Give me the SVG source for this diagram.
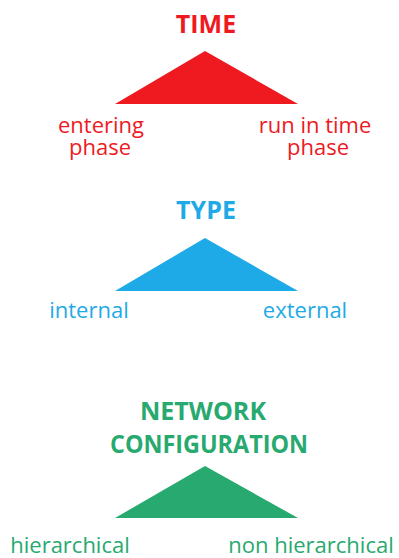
<svg xmlns="http://www.w3.org/2000/svg" width="399" height="558" viewBox="0 0 399 558">
  <style>
    .head { font-family: "Open Sans", "Liberation Sans", sans-serif; font-weight: bold; font-size: 25px; text-anchor: middle; }
    .lbl { font-family: "Open Sans", "Liberation Sans", sans-serif; font-size: 22px; text-anchor: middle; }
    .red { fill: #ee1a1f; }
    .blue { fill: #1eaae6; }
    .green { fill: #28a96f; }
  </style>
  <rect width="399" height="558" fill="#ffffff"/>

  <!-- Time -->
  <g id="time">
    <text class="head red" x="206" y="33">TIME</text>
    <polygon class="red" points="205,51 115,104 298,104"/>
    <text class="lbl red"><tspan x="101" y="133">entering</tspan><tspan x="100" y="155">phase</tspan></text>
    <text class="lbl red"><tspan x="315" y="133">run in time</tspan><tspan x="318" y="155">phase</tspan></text>
  </g>

  <!-- Type -->
  <g id="type">
    <text class="head blue" x="206" y="219">TYPE</text>
    <polygon class="blue" points="205,238 115,291 298,291"/>
    <text class="lbl blue" x="89" y="318">internal</text>
    <text class="lbl blue" x="305" y="318">external</text>
  </g>

  <!-- Network configuration -->
  <g id="network">
    <text class="head green"><tspan x="203" y="420">NETWORK</tspan><tspan x="209" y="453" textLength="198" lengthAdjust="spacingAndGlyphs">CONFIGURATION</tspan></text>
    <polygon class="green" points="205,466 115,518 298,518"/>
    <text class="lbl green" x="70" y="553">hierarchical</text>
    <text class="lbl green" x="311" y="553">non hierarchical</text>
  </g>
</svg>
